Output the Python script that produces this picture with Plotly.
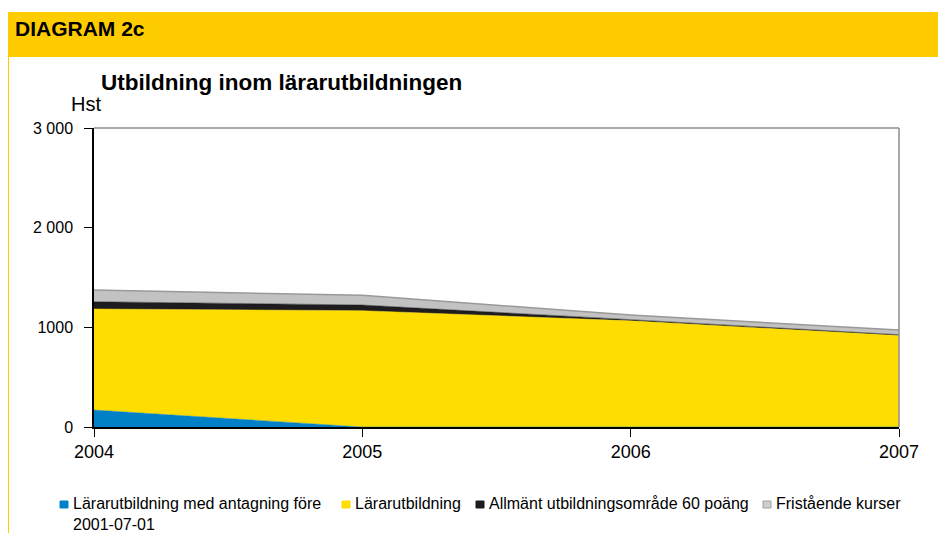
import plotly.graph_objects as go

years = [2004, 2005, 2006, 2007]
s_fore = [170, 0, 0, 0]
s_larar = [1014, 1167, 1065, 918]
s_allm = [73, 57, 12, 8]
s_frist = [117, 97, 46, 47]

names = ["Lärarutbildning med antagning före<br>2001-07-01", "Lärarutbildning",
         "Allmänt utbildningsområde 60 poäng", "Fristående kurser"]
colors = ["#0080C6", "#FFDD00", "#1E1C1E", "#C2C2C2"]
lines = ["#0080C6", "#FFDD00", "#1E1C1E", "#999999"]
series = [s_fore, s_larar, s_allm, s_frist]
ytickvals = [0, 1000, 2000, 3000]
yticktext = ["0", "1000", "2 000", "3 000"]

# reference pixel coords -> paper coords (page has 8px body margin)
PL, PR, PT, PB = 94, 899, 128, 427


def px(x):
    return (x - PL) / (PR - PL)


def py(y):
    return (PB - y) / (PB - PT)


fig = go.Figure()
for n, s, c, lc in zip(names, series, colors, lines):
    fig.add_trace(go.Scatter(x=years, y=s, name=n, stackgroup="one", mode="lines",
                             fillcolor=c, showlegend=False,
                             line=dict(color=lc, width=1.5 if lc == "#999999" else 0.5)))

font = "Liberation Sans, Arial, sans-serif"

shapes = [
    dict(type="rect", xref="paper", yref="paper", x0=px(7), x1=px(960), y0=py(57), y1=py(12),
         line=dict(width=0), fillcolor="#FFCC00", layer="below"),
    dict(type="line", xref="paper", yref="paper", x0=px(8), x1=px(8), y0=py(540), y1=py(57),
         line=dict(color="#FFCC00", width=2)),
    dict(type="line", xref="paper", yref="paper", x0=0, x1=1, y0=1, y1=1,
         line=dict(color="#8C8C8C", width=1.5)),
    dict(type="line", xref="paper", yref="paper", x0=1, x1=1, y0=0, y1=1,
         line=dict(color="#8C8C8C", width=1.5)),
]

annotations = [
    dict(text="<b>DIAGRAM 2c</b>", xref="paper", yref="paper", x=px(13), y=py(28),
         xanchor="left", yanchor="middle", showarrow=False, font=dict(size=21, color="black")),
    dict(text="<b>Utbildning inom lärarutbildningen</b>", xref="paper", yref="paper",
         x=px(99), y=py(82), xanchor="left", yanchor="middle",
         showarrow=False, font=dict(size=22.5, color="black")),
    dict(text="Hst", xref="paper", yref="paper", x=px(69), y=py(104),
         xanchor="left", yanchor="middle", showarrow=False, font=dict(size=20, color="black")),
]

# legend (squares + labels)
leg_sq_x = [60, 342, 476, 763]
leg_fill = ["#0080C6", "#FFDD00", "#1E1C1E", "#CFCFCF"]
leg_line = ["#0080C6", "#FFDD00", "#1E1C1E", "#A0A0A0"]
for n, sx, fc, lc in zip(names, leg_sq_x, leg_fill, leg_line):
    shapes.append(dict(type="rect", xref="paper", yref="paper", x0=px(sx), x1=px(sx + 8),
                       y0=py(508), y1=py(501), fillcolor=fc, line=dict(color=lc, width=1)))
    annotations.append(dict(text=n, xref="paper", yref="paper", x=px(sx + 11), y=py(493),
                            xanchor="left", yanchor="top", align="left", showarrow=False,
                            font=dict(size=16, color="black")))

fig.update_layout(
    width=938, height=525, paper_bgcolor="white", plot_bgcolor="white",
    margin=dict(l=PL - 8, r=946 - PR, t=PT - 8, b=533 - PB),
    font=dict(family=font, size=14, color="black"),
    showlegend=False,
    xaxis=dict(range=[2004, 2007], tickvals=years, ticktext=[str(y) for y in years],
               showgrid=False, zeroline=False, showline=True, linecolor="black", linewidth=1.5,
               ticks="outside", ticklen=8, tickcolor="black", tickfont=dict(size=18),
               ticklabelstandoff=0),
    yaxis=dict(range=[0, 3000], tickvals=ytickvals, ticktext=yticktext,
               showgrid=False, zeroline=False, showline=True, linecolor="black", linewidth=1.5,
               ticks="outside", ticklen=8, tickcolor="black", tickfont=dict(size=16),
               ticklabelstandoff=8),
    shapes=shapes,
    annotations=annotations,
)

fig.write_html("out.html")
